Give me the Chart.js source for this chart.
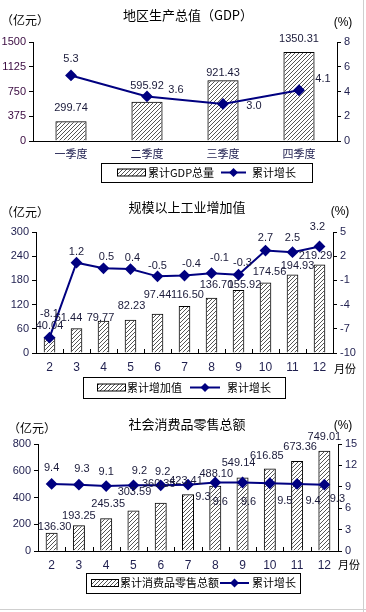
<!DOCTYPE html>
<html>
<head>
<meta charset="utf-8">
<script src="https://cdn.jsdelivr.net/npm/chart.js@4"></script>
<style>
  body { margin: 0; background: #fff; width: 366px; height: 612px; position: relative; overflow: hidden; }
  canvas { position: absolute; left: 0; }
  .edge-r { position: absolute; left: 363px; top: 0; width: 1px; height: 612px; background: #cfcfcf; }
  .edge-b { position: absolute; left: 0; top: 609px; width: 366px; height: 1px; background: #cfcfcf; }
</style>
</head>
<body>
<canvas id="gdp" width="366" height="195" style="top:0"></canvas>
<canvas id="industry" width="366" height="205" style="top:195px"></canvas>
<canvas id="retail" width="366" height="212" style="top:400px"></canvas>
<div class="edge-r"></div>
<div class="edge-b"></div>
<script>
// data
const quarters = ['一季度', '二季度', '三季度', '四季度'];
const gdpTotal = [299.74, 595.92, 921.43, 1350.31];
const gdpGrowth = [5.3, 3.6, 3.0, 4.1];

const months = ['2', '3', '4', '5', '6', '7', '8', '9', '10', '11', '12'];
const industryTotal = [40.04, 61.44, 79.77, 82.23, 97.44, 116.50, 136.70, 155.92, 174.56, 194.93, 219.29];
const industryGrowth = [-8.1, 1.2, 0.5, 0.4, -0.5, -0.4, -0.1, -0.3, 2.7, 2.5, 3.2];

const retailTotal = [136.30, 193.25, 245.35, 303.59, 360.35, 423.41, 488.10, 549.14, 616.85, 673.36, 749.01];
const retailGrowth = [9.4, 9.3, 9.1, 9.2, 9.2, 9.3, 9.6, 9.6, 9.5, 9.4, 9.3];

const NUM_FONT = '"Liberation Sans", Arial, sans-serif';
const CJK_FONT = '"Noto Sans CJK SC", sans-serif';
const TXT = '#1f1f4f';
const NAVY = '#000080';

// hatch for the bars
function makeHatch() {
  const c = document.createElement('canvas');
  c.width = 4; c.height = 4;
  const g = c.getContext('2d');
  g.strokeStyle = '#555';
  g.lineWidth = 1;
  g.beginPath();
  g.moveTo(-1, 5); g.lineTo(5, -1);
  g.moveTo(-1, 1); g.lineTo(1, -1);
  g.moveTo(3, 5); g.lineTo(5, 3);
  g.stroke();
  return g.createPattern(c, 'repeat');
}
const hatch = makeHatch();

// labels next to bars and points, offsets are [dx, dy] from the mark
function valueLabels(barOffs, lineOffs) {
  return {
    id: 'valueLabels',
    afterDatasetsDraw(chart) {
      const ctx = chart.ctx;
      ctx.save();
      ctx.font = '11px ' + NUM_FONT;
      ctx.fillStyle = '#1a1a3a';
      ctx.textAlign = 'center';
      ctx.textBaseline = 'middle';
      chart.data.datasets.forEach((ds, di) => {
        const offs = ds.type === 'bar' ? barOffs : lineOffs;
        const digits = ds.type === 'bar' ? 2 : 1;
        chart.getDatasetMeta(di).data.forEach((el, i) => {
          ctx.fillText(ds.data[i].toFixed(digits), el.x + offs[i][0], el.y + offs[i][1]);
        });
      });
      ctx.restore();
    }
  };
}

// titles, units, legend box
function decor(cfg) {
  return {
    id: 'decor',
    afterDraw(chart) {
      const ctx = chart.ctx;
      ctx.save();
      ctx.fillStyle = '#000';
      ctx.textBaseline = 'middle';
      ctx.textAlign = 'center';
      ctx.font = '13px ' + CJK_FONT;
      ctx.fillText(cfg.title, cfg.titleX, cfg.titleY);
      ctx.font = '12px ' + CJK_FONT;
      ctx.fillText('（亿元）', cfg.unitL[0], cfg.unitL[1]);
      ctx.font = '12px ' + NUM_FONT;
      ctx.fillText('(%)', cfg.unitR[0], cfg.unitR[1]);
      if (cfg.month) {
        ctx.font = '11px ' + CJK_FONT;
        ctx.fillText('月份', cfg.month[0], cfg.month[1]);
      }

      // small inward ticks between categories
      if (cfg.xTicks) {
        const xs = chart.scales.x;
        const b = chart.chartArea.bottom;
        ctx.strokeStyle = '#000';
        ctx.lineWidth = 1;
        ctx.beginPath();
        for (let i = 1; i < xs.ticks.length; i++) {
          const x = Math.round((xs.getPixelForTick(i - 1) + xs.getPixelForTick(i)) / 2) + 0.5;
          ctx.moveTo(x, b);
          ctx.lineTo(x, b - 4);
        }
        ctx.stroke();
      }

      // legend
      const L = cfg.legend;
      const cy = L.box[1] + L.box[3] / 2;
      ctx.strokeStyle = '#000';
      ctx.lineWidth = 1;
      ctx.strokeRect(L.box[0] + 0.5, L.box[1] + 0.5, L.box[2], L.box[3]);
      ctx.fillStyle = hatch;
      ctx.fillRect(L.swatch[0], cy - 3.5, L.swatch[1], 7);
      ctx.strokeRect(L.swatch[0] + 0.5, cy - 3.5, L.swatch[1], 7);
      ctx.strokeStyle = NAVY;
      ctx.lineWidth = 2;
      ctx.beginPath();
      ctx.moveTo(L.line[0], cy);
      ctx.lineTo(L.line[1], cy);
      ctx.stroke();
      const mx = (L.line[0] + L.line[1]) / 2;
      ctx.fillStyle = NAVY;
      ctx.beginPath();
      ctx.moveTo(mx, cy - 4.5); ctx.lineTo(mx + 4.5, cy); ctx.lineTo(mx, cy + 4.5); ctx.lineTo(mx - 4.5, cy);
      ctx.closePath();
      ctx.fill();
      ctx.fillStyle = '#000';
      ctx.textAlign = 'left';
      ctx.font = '11px ' + CJK_FONT;
      ctx.fillText(L.text1, L.text1X, cy);
      ctx.fillText('累计增长', L.text2X, cy);
      ctx.restore();
    }
  };
}

function yAxis(pos, min, max, step, width, color) {
  return {
    position: pos,
    min: min,
    max: max,
    ticks: { stepSize: step, color: color || TXT, font: { family: NUM_FONT, size: 11 }, padding: 3, callback: v => String(v) },
    grid: { drawOnChartArea: false, tickLength: 4, color: '#000' },
    border: { color: '#000', width: 1 },
    afterFit(s) { s.width = width; }
  };
}

function build(id, o) {
  new Chart(document.getElementById(id), {
    type: 'bar',
    data: {
      labels: o.labels,
      datasets: [
        {
          type: 'line',
          data: o.growth,
          yAxisID: 'y1',
          borderColor: NAVY,
          borderWidth: 2,
          pointStyle: 'rectRot',
          pointRadius: 4.5,
          pointBackgroundColor: NAVY,
          pointBorderColor: NAVY,
          tension: 0,
          order: 0
        },
        {
          type: 'bar',
          data: o.total,
          yAxisID: 'y',
          backgroundColor: hatch,
          borderColor: '#000',
          borderWidth: 1,
          barPercentage: o.barPct,
          categoryPercentage: 1,
          order: 1
        }
      ]
    },
    options: {
      responsive: false,
      animation: false,
      layout: { padding: { left: 0, right: 0, top: o.top, bottom: o.bottom } },
      plugins: { legend: { display: false }, tooltip: { enabled: false } },
      scales: {
        x: {
          offset: true,
          grid: { display: false, drawTicks: false, tickLength: 0 },
          border: { color: '#000', width: 1 },
          ticks: { color: TXT, font: { family: o.xFont, size: o.xSize }, padding: o.xPad, maxRotation: 0, autoSkip: false },
          afterFit(s) { s.height = 26; }
        },
        y: yAxis('left', o.yL[0], o.yL[1], o.yL[2], o.wL, o.leftColor),
        y1: yAxis('right', o.yR[0], o.yR[1], o.yR[2], o.wR)
      }
    },
    plugins: [valueLabels(o.barOffs, o.lineOffs), decor(o.decor)]
  });
}

build('gdp', {
  labels: quarters, total: gdpTotal, growth: gdpGrowth,
  top: 42, bottom: 28, wL: 33, wR: 29, barPct: 0.41,
  yL: [0, 1500, 375], yR: [0, 8, 2], leftColor: '#3a0a40',
  xFont: CJK_FONT, xSize: 11, xPad: 6,
  barOffs: [[0, -13], [0, -16], [0, -7], [0, -13]],
  lineOffs: [[0, -16], [29, -6], [31, 2], [24, -11]],
  decor: {
    title: '地区生产总值（GDP）', titleX: 188, titleY: 15,
    unitL: [25, 20], unitR: [343, 23], xTicks: false,
    legend: { box: [101, 163, 211, 19], swatch: [117, 28], line: [221, 246], text1: '累计GDP总量', text1X: 148, text2X: 252 }
  }
});

build('industry', {
  labels: months, total: industryTotal, growth: industryGrowth,
  top: 37, bottom: 21, wL: 36, wR: 33, barPct: 0.43,
  yL: [0, 300, 60], yR: [-10, 5, 3],
  xFont: NUM_FONT, xSize: 12, xPad: 7,
  barOffs: [[0, -11], [-8, -10], [-3, -3], [1, -14], [0, -19], [3, -11], [5, -13], [6, -5], [4, -11], [5, -8], [-4, -9]],
  lineOffs: [[0, -24], [0, -11], [3, -11], [2, -11], [0, -10], [7, -12], [8, -15], [4, -12], [0, -13], [0, -14], [-2, -20]],
  decor: {
    title: '规模以上工业增加值', titleX: 187, titleY: 12,
    unitL: [25, 17], unitR: [340, 17], month: [345, 174], xTicks: true,
    legend: { box: [83, 182, 202, 21], swatch: [97, 28], line: [190, 220], text1: '累计增加值', text1X: 127, text2X: 227 }
  }
});

build('retail', {
  labels: months, total: retailTotal, growth: retailGrowth,
  top: 44, bottom: 35, wL: 38, wR: 28, barPct: 0.44,
  yL: [0, 800, 200], yR: [0, 15, 3],
  xFont: NUM_FONT, xSize: 12, xPad: 7,
  barOffs: [[3, -6], [0, -9], [2, -14], [1, -18], [-2, -19], [-2, -13], [1, -12], [-4, -15], [-3, -13], [3, -14], [0, -14]],
  lineOffs: [[0, -16], [3, -16], [0, -14], [6, -14], [2, -13], [15, 12], [5, 19], [6, 19], [15, 18], [16, 17], [13, 14]],
  decor: {
    title: '社会消费品零售总额', titleX: 187, titleY: 24,
    unitL: [32, 28], unitR: [343, 26], month: [349, 165], xTicks: true,
    legend: { box: [86, 173, 214, 20], swatch: [91, 27], line: [220, 249], text1: '累计消费品零售总额', text1X: 120, text2X: 252 }
  }
});
</script>
</body>
</html>
